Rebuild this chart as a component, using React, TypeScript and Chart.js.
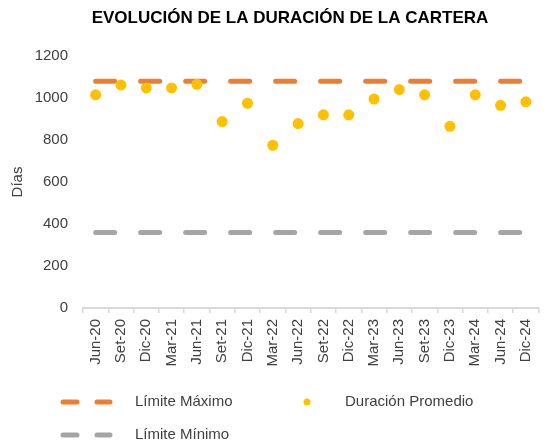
import React, { useEffect, useRef } from "react";
import { Chart, registerables } from "chart.js";

Chart.register(...registerables);

const categories = [
  "Jun-20", "Set-20", "Dic-20", "Mar-21", "Jun-21", "Set-21", "Dic-21", "Mar-22", "Jun-22",
  "Set-22", "Dic-22", "Mar-23", "Jun-23", "Set-23", "Dic-23", "Mar-24", "Jun-24", "Dic-24",
];
const duracionPromedio = [1015, 1062, 1048, 1048, 1065, 888, 975, 775, 878, 920, 920, 995, 1040, 1015, 865, 1015, 965, 982];
const limiteMaximo = [1080, 1080, 1080, 1080, 1080, 1080, 1080, 1080, 1080, 1080, 1080, 1080, 1080, 1080, 1080, 1080, 1080, 1080];
const limiteMinimo = [360, 360, 360, 360, 360, 360, 360, 360, 360, 360, 360, 360, 360, 360, 360, 360, 360, 360];
const yTicks = [0, 200, 400, 600, 800, 1000, 1200];

const TITLE = "EVOLUCIÓN DE LA DURACIÓN DE LA CARTERA";
const FONT = "'Liberation Sans', Arial, sans-serif";
const ORANGE = "#ED7D31";
const GREY = "#A5A5A5";
const YELLOW = "#FFC000";
const TEXT = "#404040";

const overlayPlugin = {
  id: "overlay",
  afterDraw(chart: any) {
    const ctx = chart.ctx;
    ctx.save();
    // title
    ctx.fillStyle = "#000000";
    ctx.font = `bold 17px ${FONT}`;
    ctx.textAlign = "center";
    ctx.textBaseline = "middle";
    ctx.fillText(TITLE, 290, 18);

    // legend
    const ds = chart.data.datasets;
    const drawDashSample = (color: string, y: number) => {
      ctx.strokeStyle = color;
      ctx.lineWidth = 5;
      ctx.lineCap = "round";
      ctx.setLineDash([]);
      ctx.beginPath();
      ctx.moveTo(63, y);
      ctx.lineTo(77, y);
      ctx.moveTo(97, y);
      ctx.lineTo(110, y);
      ctx.stroke();
    };
    ctx.font = `15px ${FONT}`;
    ctx.textAlign = "left";
    const row1 = 402;
    const row2 = 435;
    drawDashSample(ds[1].borderColor, row1);
    ctx.fillStyle = TEXT;
    ctx.fillText(ds[1].label, 135, row1);
    ctx.fillStyle = ds[0].backgroundColor;
    ctx.beginPath();
    ctx.arc(307, row1, 3.5, 0, Math.PI * 2);
    ctx.fill();
    ctx.fillStyle = TEXT;
    ctx.fillText(ds[0].label, 345, row1);
    drawDashSample(ds[2].borderColor, row2);
    ctx.fillStyle = TEXT;
    ctx.fillText(ds[2].label, 135, row2);
    ctx.restore();
  },
};

export default function App() {
  const ref = useRef<HTMLCanvasElement | null>(null);
  useEffect(() => {
    if (!ref.current) return;
    const chart = new Chart(ref.current, {
      type: "line",
      data: {
        labels: categories,
        datasets: [
          {
            label: "Duración Promedio",
            data: duracionPromedio,
            showLine: false,
            pointRadius: 5.5,
            pointHoverRadius: 5.5,
            pointBackgroundColor: YELLOW,
            pointBorderWidth: 0,
            backgroundColor: YELLOW,
            borderColor: YELLOW,
            order: 0,
          },
          {
            label: "Límite Máximo",
            data: limiteMaximo,
            borderColor: ORANGE,
            backgroundColor: ORANGE,
            borderWidth: 5,
            borderDash: [19, 26],
            borderCapStyle: "round",
            pointRadius: 0,
            fill: false,
            order: 1,
          },
          {
            label: "Límite Mínimo",
            data: limiteMinimo,
            borderColor: GREY,
            backgroundColor: GREY,
            borderWidth: 5,
            borderDash: [19, 26],
            borderCapStyle: "round",
            pointRadius: 0,
            fill: false,
            order: 1,
          },
        ],
      } as any,
      options: {
        animation: false,
        responsive: true,
        maintainAspectRatio: false,
        layout: { padding: { top: 56, bottom: 70, left: 0, right: 0 } },
        plugins: {
          legend: { display: false },
          title: { display: false },
          tooltip: { enabled: false },
        },
        scales: {
          x: {
            type: "category",
            offset: true,
            grid: {
              display: true,
              offset: true,
              drawOnChartArea: false,
              drawTicks: true,
              tickLength: 5,
              color: "#D9D9D9",
              lineWidth: 1.5,
            },
            border: { display: true, color: "#D9D9D9", width: 2 },
            ticks: {
              autoSkip: false,
              maxRotation: 90,
              minRotation: 90,
              padding: 6,
              color: TEXT,
              font: { family: FONT, size: 15 },
            },
            afterFit: (scale: any) => {
              scale.height = 63;
            },
          },
          y: {
            min: 0,
            max: 1200,
            afterBuildTicks: (scale: any) => {
              scale.ticks = yTicks.map((v) => ({ value: v }));
            },
            grid: { display: false, drawTicks: false },
            border: { display: false },
            ticks: {
              padding: 15,
              color: TEXT,
              font: { family: FONT, size: 15 },
              callback: (v: any) => String(v),
            },
            title: {
              display: true,
              text: "Días",
              color: TEXT,
              font: { family: FONT, size: 15 },
              padding: { top: 9, bottom: 0 },
            },
            afterFit: (scale: any) => {
              scale.width = 83;
            },
          },
        },
      } as any,
      plugins: [overlayPlugin],
    });
    return () => chart.destroy();
  }, []);

  return (
    <div style={{ position: "fixed", left: 0, top: 0, width: 548, height: 441, overflow: "hidden", background: "#fff" }}>
      <div style={{ position: "relative", width: 550, height: 441 }}>
        <canvas ref={ref} />
      </div>
    </div>
  );
}
